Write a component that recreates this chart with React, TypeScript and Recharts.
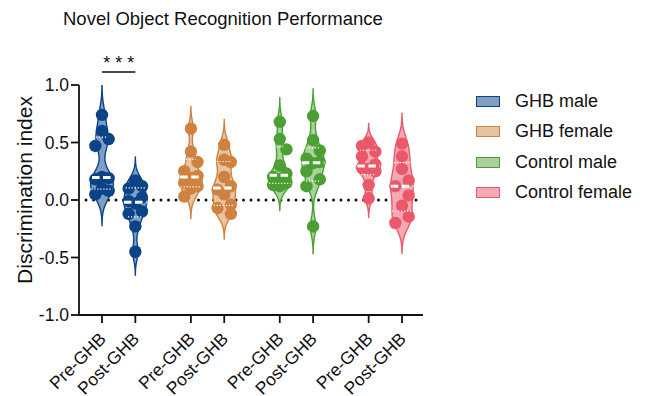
import React from 'react';
import { ScatterChart, Scatter, XAxis, YAxis, ReferenceLine, Legend } from 'recharts';

const FONT = '"Liberation Sans", Arial, sans-serif';

// groups and conditions
const groups = ['GHB male', 'GHB female', 'Control male', 'Control female'];
const conditions = ['Pre-GHB', 'Post-GHB'];
const edgeColors = ['#0a4387', '#cf8240', '#4b9f33', '#ea5869'];
const bodyColors = ['#7f9ec4', '#e7c3a1', '#a7d39a', '#f5a9b2'];

// discrimination index
const ghbMalePre = [0.74, 0.6, 0.53, 0.47, 0.2, 0.19, 0.18, 0.1, 0.08, 0.05];
const ghbMalePost = [0.17, 0.12, 0.1, 0.02, -0.01, -0.03, -0.1, -0.12, -0.23, -0.45];
const ghbFemalePre = [0.62, 0.42, 0.33, 0.25, 0.21, 0.19, 0.15, 0.12, 0.1, 0.03];
const ghbFemalePost = [0.48, 0.35, 0.33, 0.2, 0.12, 0.09, 0.05, -0.04, -0.07, -0.12];
const controlMalePre = [0.68, 0.53, 0.44, 0.3, 0.23, 0.2, 0.18, 0.15, 0.13, 0.12];
const controlMalePost = [0.73, 0.52, 0.43, 0.36, 0.33, 0.32, 0.25, 0.18, 0.12, -0.23];
const controlFemalePre = [0.5, 0.47, 0.42, 0.38, 0.31, 0.28, 0.27, 0.25, 0.13, 0.015];
const controlFemalePost = [0.49, 0.38, 0.27, 0.17, 0.12, 0.04, -0.05, -0.145, -0.2];

const yTicks = [-1, -0.5, 0, 0.5, 1];

const series = [
  [ghbMalePre, ghbMalePost],
  [ghbFemalePre, ghbFemalePost],
  [controlMalePre, controlMalePost],
  [controlFemalePre, controlFemalePost],
];

// layout helpers
const GROUP_STEP = 8 / 3;
const xPos = (g: number, c: number) => g * GROUP_STEP + c;
const tickPositions = groups.flatMap((_, g) => conditions.map((_, c) => xPos(g, c)));
const PX_X = 33.3; // approx px per x unit, used only for dot spreading
const PX_Y = 115; // approx px per y unit
const HALF_MAX = 0.34;

function quantile(sorted: number[], p: number) {
  const n = sorted.length;
  let r = p * (n + 1) - 1;
  if (r < 0) r = 0;
  if (r > n - 1) r = n - 1;
  const lo = Math.floor(r);
  const hi = Math.min(lo + 1, n - 1);
  return sorted[lo] + (r - lo) * (sorted[hi] - sorted[lo]);
}

function buildViolin(vals: number[], cx: number) {
  const sorted = [...vals].sort((a, b) => a - b);
  const n = vals.length;
  const mean = vals.reduce((s, v) => s + v, 0) / n;
  const sd = Math.sqrt(vals.reduce((s, v) => s + (v - mean) ** 2, 0) / (n - 1));
  const q1 = quantile(sorted, 0.25);
  const med = quantile(sorted, 0.5);
  const q3 = quantile(sorted, 0.75);
  const spread = Math.min(sd, (q3 - q1) / 1.34) || sd;
  const bw = 0.65 * 0.9 * spread * Math.pow(n, -0.2);
  const lo = sorted[0] - 3 * bw;
  const hi = sorted[n - 1] + 3 * bw;
  const dens = (y: number) => vals.reduce((s, v) => s + Math.exp(-0.5 * ((y - v) / bw) ** 2), 0);
  const steps = 90;
  const levels: number[] = [];
  for (let i = 0; i <= steps; i++) levels.push(lo + ((hi - lo) * i) / steps);
  const maxD = Math.max(...levels.map(dens));
  const half = (y: number) => (dens(y) / maxD) * HALF_MAX;
  const right = levels.map((y) => ({ x: cx + half(y), y }));
  const left = [...levels].reverse().map((y) => ({ x: cx - half(y), y }));
  const outline = [{ x: cx, y: lo }, ...right, { x: cx, y: hi }, ...left];
  const seg = (y: number) => [
    { x: cx - half(y), y },
    { x: cx + half(y), y },
  ];

  // spread the dots sideways so they do not sit on top of each other
  const cands = [0, 0.2, -0.2];
  const placed: { x: number; y: number }[] = [];
  [...vals].sort((a, b) => b - a).forEach((v) => {
    let best = cands[0];
    let bestD = -1;
    for (const off of cands) {
      const d = placed.length
        ? Math.min(...placed.map((p) => Math.hypot((p.x - (cx + off)) * PX_X, (p.y - v) * PX_Y)))
        : 99;
      if (d >= 12) { best = off; bestD = d; break; }
      if (d > bestD) { bestD = d; best = off; }
    }
    placed.push({ x: cx + best, y: v });
  });

  return { outline, dots: placed, median: seg(med), lower: seg(q1), upper: seg(q3) };
}

const violins = series.flatMap((pair, g) =>
  pair.map((vals, c) => ({ g, c, ...buildViolin(vals, xPos(g, c)) }))
);

const ViolinPath = (props: any) => {
  const { points, edge, body } = props;
  if (!points || !points.length) return null;
  const d = points.map((p: any, i: number) => `${i ? 'L' : 'M'}${p.x},${p.y}`).join('') + 'Z';
  return <path d={d} fill={body} stroke={edge} strokeWidth={1.4} strokeLinejoin="round" />;
};

const NoShape = () => <g />;

const XTick = (props: any) => {
  const { x, y, payload } = props;
  const idx = tickPositions.findIndex((t) => Math.abs(t - payload.value) < 1e-6);
  const label = idx >= 0 ? conditions[idx % 2] : '';
  return (
    <g transform={`translate(${x + 5},${y + 15})`}>
      <text textAnchor="end" transform="rotate(-45)" fill="#111" fontSize={17.5} fontFamily={FONT}>
        {label}
      </text>
    </g>
  );
};

const LegendBox = () => (
  <div style={{ fontFamily: FONT, fontSize: 18, color: '#111' }}>
    {groups.map((name, i) => (
      <div key={name} style={{ display: 'flex', alignItems: 'center', height: 30.5 }}>
        <span
          style={{
            display: 'inline-block',
            width: 22,
            height: 9,
            border: `1.5px solid ${edgeColors[i]}`,
            background: bodyColors[i],
            marginRight: 15,
          }}
        />
        <span>{name}</span>
      </div>
    ))}
  </div>
);

export default function App() {
  return (
    <div style={{ position: 'absolute', left: 0, top: 0, width: 651, height: 396, background: '#fff' }}>
      <div
        style={{
          position: 'absolute',
          left: 63,
          top: 9,
          fontFamily: FONT,
          fontSize: 18.5,
          lineHeight: '20px',
          color: '#111',
          whiteSpace: 'nowrap',
        }}
      >
        Novel Object Recognition Performance
      </div>
      <ScatterChart width={651} height={396} margin={{ top: 85, right: 228, bottom: 0, left: 0 }}>
        <XAxis
          type="number"
          dataKey="x"
          domain={[-0.69, 9.63]}
          ticks={tickPositions}
          interval={0}
          allowDataOverflow
          height={81}
          tick={<XTick />}
          tickSize={8}
          axisLine={{ stroke: '#111', strokeWidth: 1.8 }}
          tickLine={{ stroke: '#111', strokeWidth: 1.8 }}
        />
        <YAxis
          type="number"
          dataKey="y"
          domain={[-1, 1]}
          ticks={yTicks}
          interval={0}
          allowDataOverflow
          width={79}
          tickSize={8}
          tickMargin={2}
          tickFormatter={(v: number) => v.toFixed(1)}
          tick={{ fill: '#111', fontSize: 17.5, fontFamily: FONT }}
          axisLine={{ stroke: '#111', strokeWidth: 1.8 }}
          tickLine={{ stroke: '#111', strokeWidth: 1.8 }}
          label={{
            content: () => (
              <text
                x={24}
                y={190}
                transform="rotate(-90 24 190)"
                textAnchor="middle"
                dominantBaseline="central"
                fill="#111"
                fontSize={21}
                fontFamily={FONT}
              >
                Discrimination index
              </text>
            ),
          }}
        />
        <ReferenceLine
          segment={[{ x: -0.48, y: 0 }, { x: 9.5, y: 0 }]}
          stroke="#111"
          strokeWidth={3}
          strokeDasharray="0 7.5"
          strokeLinecap="round"
          ifOverflow="visible"
        />
        {violins.map((v) => (
          <Scatter
            key={`body-${v.g}-${v.c}`}
            data={v.outline}
            shape={NoShape}
            line={<ViolinPath edge={edgeColors[v.g]} body={bodyColors[v.g]} />}
            isAnimationActive={false}
          />
        ))}
        {violins.map((v) => (
          <Scatter
            key={`dots-${v.g}-${v.c}`}
            data={v.dots}
            shape={(p: any) => <circle cx={p.cx} cy={p.cy} r={6.2} fill={edgeColors[v.g]} />}
            isAnimationActive={false}
          />
        ))}
        {violins.map((v) => (
          <Scatter
            key={`q1-${v.g}-${v.c}`}
            data={v.lower}
            shape={NoShape}
            line={{ stroke: '#fff', strokeWidth: 1.2, strokeDasharray: '1.2 1.8' }}
            isAnimationActive={false}
          />
        ))}
        {violins.map((v) => (
          <Scatter
            key={`q3-${v.g}-${v.c}`}
            data={v.upper}
            shape={NoShape}
            line={{ stroke: '#fff', strokeWidth: 1.2, strokeDasharray: '1.2 1.8' }}
            isAnimationActive={false}
          />
        ))}
        {violins.map((v) => (
          <Scatter
            key={`med-${v.g}-${v.c}`}
            data={v.median}
            shape={NoShape}
            line={{ stroke: '#fff', strokeWidth: 3, strokeDasharray: '7.5 3.5' }}
            isAnimationActive={false}
          />
        ))}
        <ReferenceLine
          segment={[{ x: 0, y: 1.113 }, { x: 1, y: 1.113 }]}
          stroke="#111"
          strokeWidth={1.5}
          ifOverflow="visible"
          label={{ value: '* * *', position: 'top', offset: 3, fill: '#111', fontSize: 18, fontFamily: FONT }}
        />
        <Legend
          layout="vertical"
          align="center"
          verticalAlign="middle"
          content={<LegendBox />}
          wrapperStyle={{ left: 476, top: 86, width: 'auto', height: 'auto' }}
        />
      </ScatterChart>
    </div>
  );
}
